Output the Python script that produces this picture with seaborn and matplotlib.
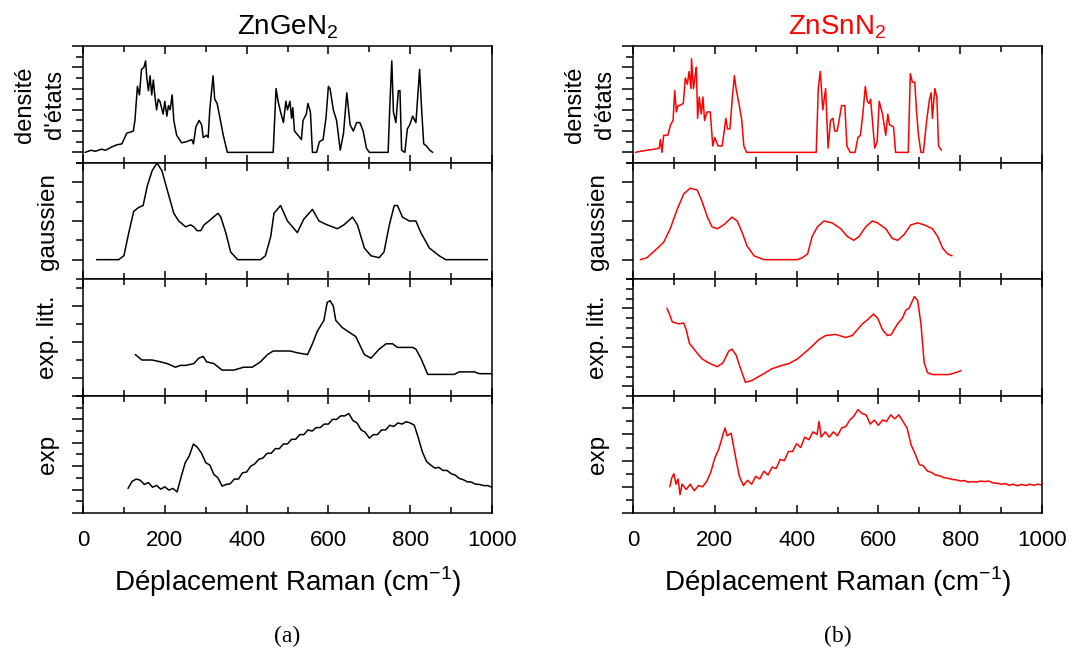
import numpy as np
import matplotlib
matplotlib.use("Agg")
import matplotlib.pyplot as plt
from matplotlib.ticker import MultipleLocator
import seaborn as sns

# ---- data (x in cm-1, y in arbitrary units) ----
ge_dos_x = [5, 20, 30, 45, 55, 70, 82, 95, 107, 115, 123, 127, 133, 138, 143, 149, 153, 156, 160, 164,
            168, 172, 176, 180, 184, 188, 196, 200, 205, 209, 213, 218, 222, 229, 241, 253, 266, 270, 276,
            284, 290, 294, 302, 306, 310, 318, 322, 328, 335, 343, 353, 465, 472, 477, 483, 490, 496, 500,
            506, 510, 513, 517, 526, 534, 538, 546, 550, 556, 561, 571, 578, 587, 594, 600, 604, 612, 620,
            629, 637, 645, 653, 661, 669, 677, 685, 693, 700, 746, 750, 755, 759, 765, 771, 775, 779, 787,
            793, 799, 806, 814, 823, 828, 833, 840, 848, 855]
ge_dos_y = [0.0, 0.1, 0.05, 0.15, 0.1, 0.25, 0.35, 0.4, 0.9, 0.95, 1.0, 1.5, 3.1, 2.7, 3.9, 4.0, 4.3,
            3.5, 2.9, 3.6, 2.7, 3.4, 2.6, 2.0, 2.5, 2.4, 1.8, 2.4, 1.7, 2.2, 2.0, 2.7, 1.5, 0.8, 0.45, 0.5,
            0.6, 0.4, 1.2, 1.5, 1.3, 0.7, 0.8, 0.7, 2.0, 3.6, 2.5, 2.3, 1.6, 0.8, 0.0, 0.0, 3.0, 2.4, 1.9,
            1.4, 2.4, 2.0, 2.4, 1.6, 2.1, 1.0, 0.8, 0.6, 1.5, 1.8, 2.3, 1.9, 0.0, 0.0, 0.5, 0.6, 1.6, 3.1,
            3.0, 2.0, 1.5, 0.1, 0.9, 2.8, 1.3, 1.0, 1.4, 1.4, 1.0, 0.2, 0.0, 0.0, 2.1, 4.3, 1.9, 1.4, 2.9,
            2.9, 0.1, 0.0, 1.1, 1.3, 1.7, 1.4, 3.9, 2.0, 0.4, 0.3, 0.1, 0.0]

sn_dos_x = [6, 18, 35, 52, 64, 67, 71, 75, 85, 92, 98, 102, 106, 110, 114, 123, 128, 133, 137, 142, 143,
            148, 152, 155, 158, 162, 167, 171, 175, 181, 189, 195, 200, 208, 218, 223, 227, 231, 237, 243,
            248, 252, 260, 266, 271, 278, 448, 453, 458, 464, 471, 477, 483, 489, 493, 499, 503, 510, 518,
            523, 531, 543, 550, 556, 562, 568, 573, 577, 581, 591, 597, 602, 610, 618, 623, 627, 637, 642,
            673, 678, 683, 689, 693, 698, 704, 710, 718, 725, 729, 732, 738, 743, 747, 754]
sn_dos_y = [0.0, 0.05, 0.1, 0.15, 0.2, 0.6, 0.0, 0.8, 0.8, 1.3, 1.5, 2.9, 1.9, 2.2, 2.2, 2.3, 3.5, 3.2,
            3.8, 3.0, 4.4, 3.0, 3.6, 4.0, 1.6, 2.6, 1.8, 2.6, 1.5, 1.9, 1.9, 0.3, 0.7, 0.3, 0.3, 1.0, 1.6,
            1.1, 1.1, 2.6, 3.6, 3.0, 2.2, 1.5, 0.3, 0.0, 0.0, 3.0, 3.8, 2.0, 3.0, 0.2, 1.5, 1.6, 1.0, 1.0,
            1.4, 2.2, 2.2, 0.3, 0.0, 0.0, 0.7, 0.8, 1.8, 3.1, 2.4, 2.3, 2.5, 0.2, 0.5, 2.4, 1.8, 0.8, 1.8,
            1.3, 1.2, 0.0, 0.0, 3.7, 3.3, 3.3, 2.0, 0.8, 0.0, 0.0, 1.5, 2.5, 2.8, 1.6, 3.0, 2.6, 0.3, 0.1]

ge_gau_x = [33, 87, 100, 112, 124, 136, 147, 157, 169, 181, 193, 206, 222, 234, 251, 263, 271, 279, 288,
            296, 308, 330, 337, 349, 361, 378, 434, 446, 459, 467, 483, 500, 524, 540, 561, 577, 597, 622,
            638, 659, 671, 688, 704, 724, 736, 749, 761, 769, 781, 798, 814, 826, 847, 871, 887, 989]
ge_gau_y = [0.0, 0.0, 0.1, 0.7, 1.25, 1.35, 1.4, 1.9, 2.3, 2.5, 2.3, 1.8, 1.2, 1.0, 0.85, 0.9, 0.85, 0.75,
            0.75, 0.9, 1.0, 1.2, 1.1, 0.7, 0.2, 0.0, 0.0, 0.1, 0.6, 1.2, 1.4, 1.0, 0.7, 1.05, 1.3, 1.0, 0.9,
            0.8, 0.9, 1.1, 0.9, 0.3, 0.1, 0.05, 0.2, 0.9, 1.4, 1.4, 1.1, 1.0, 1.0, 0.7, 0.3, 0.1, 0.0, 0.0]

sn_gau_x = [18, 34, 55, 75, 91, 108, 124, 140, 157, 169, 182, 193, 206, 222, 242, 255, 267, 279, 296, 320,
            402, 414, 427, 438, 451, 467, 487, 508, 524, 540, 553, 569, 585, 598, 618, 634, 647, 663, 679,
            696, 712, 732, 745, 757, 769, 780]
sn_gau_y = [0.0, 0.05, 0.25, 0.45, 0.8, 1.3, 1.7, 1.85, 1.8, 1.5, 1.1, 0.85, 0.8, 0.9, 1.1, 1.0, 0.7,
            0.35, 0.1, 0.0, 0.0, 0.05, 0.15, 0.6, 0.85, 1.0, 0.95, 0.8, 0.6, 0.5, 0.6, 0.85, 1.0, 0.95,
            0.8, 0.55, 0.5, 0.65, 0.9, 0.95, 0.9, 0.8, 0.6, 0.3, 0.15, 0.1]

ge_lit_x = [128, 144, 169, 189, 206, 226, 238, 251, 271, 283, 294, 302, 320, 340, 369, 393, 414, 434, 451,
            465, 483, 507, 524, 549, 561, 573, 589, 597, 604, 612, 618, 634, 647, 667, 688, 704, 724, 741,
            757, 769, 806, 814, 826, 843, 867, 908, 920, 957, 969, 1000]
ge_lit_y = [0.65, 0.5, 0.5, 0.45, 0.4, 0.3, 0.35, 0.35, 0.4, 0.55, 0.6, 0.45, 0.4, 0.22, 0.22, 0.3, 0.3,
            0.45, 0.65, 0.75, 0.75, 0.75, 0.7, 0.65, 0.95, 1.3, 1.6, 2.1, 2.15, 2.0, 1.6, 1.4, 1.3, 1.15,
            0.65, 0.55, 0.8, 0.95, 0.95, 0.85, 0.85, 0.8, 0.55, 0.1, 0.1, 0.1, 0.17, 0.17, 0.12, 0.12]

sn_lit_x = [83, 89, 96, 112, 124, 130, 138, 153, 169, 185, 206, 220, 234, 242, 252, 263, 275, 291, 316,
            340, 369, 381, 402, 430, 455, 471, 495, 520, 536, 561, 573, 588, 598, 610, 622, 631, 647, 659,
            667, 675, 688, 696, 704, 712, 720, 732, 773, 789, 802]
sn_lit_y = [2.0, 1.85, 1.65, 1.6, 1.62, 1.45, 1.1, 0.9, 0.7, 0.6, 0.5, 0.6, 0.9, 0.95, 0.8, 0.45, 0.1,
            0.15, 0.3, 0.45, 0.55, 0.58, 0.7, 0.95, 1.2, 1.3, 1.33, 1.25, 1.3, 1.6, 1.7, 1.85, 1.75, 1.45,
            1.3, 1.32, 1.6, 1.75, 1.95, 2.0, 2.3, 2.2, 1.6, 0.6, 0.35, 0.3, 0.3, 0.35, 0.4]

ge_exp_x = [110, 120, 130, 140, 150, 160, 170, 180, 190, 200, 210, 220, 230, 240, 250, 260, 270, 280, 290,
            300, 310, 320, 330, 340, 350, 360, 370, 380, 390, 400, 410, 420, 430, 440, 450, 460, 470, 480,
            490, 500, 510, 520, 530, 540, 550, 560, 570, 580, 590, 600, 610, 620, 630, 640, 650, 660, 670,
            680, 690, 700, 710, 720, 730, 740, 750, 760, 770, 780, 790, 800, 810, 820, 830, 840, 850, 860,
            870, 880, 890, 900, 910, 920, 930, 940, 950, 960, 970, 980, 990, 1000]
ge_exp_y = [0.05, 0.35, 0.45, 0.4, 0.22, 0.3, 0.1, 0.18, 0.02, 0.12, -0.02, 0.05, -0.1, 0.55, 1.15, 1.45,
            1.95, 1.8, 1.55, 1.15, 1.05, 0.65, 0.5, 0.15, 0.22, 0.25, 0.45, 0.45, 0.72, 0.75, 1.0, 1.1, 1.3,
            1.35, 1.55, 1.55, 1.75, 1.75, 1.95, 1.95, 2.15, 2.15, 2.35, 2.35, 2.55, 2.5, 2.65, 2.65, 2.8,
            2.8, 3.0, 3.0, 3.15, 3.15, 3.25, 2.95, 2.85, 2.55, 2.45, 2.2, 2.35, 2.35, 2.55, 2.55, 2.75, 2.7,
            2.85, 2.8, 2.9, 2.85, 2.75, 2.2, 1.6, 1.2, 1.05, 0.92, 0.95, 0.82, 0.82, 0.68, 0.62, 0.48, 0.42,
            0.33, 0.32, 0.23, 0.22, 0.17, 0.17, 0.1]

sn_exp_x = [90, 95, 100, 105, 110, 115, 120, 130, 140, 150, 160, 170, 180, 190, 200, 210, 220, 225, 230,
            240, 250, 260, 270, 280, 290, 300, 310, 320, 330, 340, 350, 360, 370, 380, 390, 400, 410, 420,
            430, 440, 450, 455, 460, 470, 480, 490, 500, 510, 520, 530, 540, 550, 560, 570, 580, 590, 600,
            610, 620, 630, 640, 650, 660, 670, 680, 690, 700, 710, 720, 730, 740, 750, 760, 770, 780, 790,
            800, 810, 820, 830, 840, 850, 860, 870, 880, 890, 900, 910, 920, 930, 940, 950, 960, 970, 980,
            990, 1000]
sn_exp_y = [0.0, 0.35, 0.5, 0.1, 0.3, -0.3, 0.1, -0.1, 0.1, -0.15, 0.05, 0.0, 0.2, 0.55, 1.1, 1.45, 2.0,
            2.25, 1.95, 2.05, 1.2, 0.4, 0.05, 0.25, 0.1, 0.4, 0.3, 0.6, 0.45, 0.75, 0.7, 1.05, 1.0, 1.35,
            1.35, 1.65, 1.5, 1.9, 1.8, 2.1, 2.0, 2.5, 1.9, 2.1, 1.9, 2.1, 1.95, 2.25, 2.3, 2.55, 2.7, 2.95,
            2.8, 2.75, 2.4, 2.55, 2.35, 2.55, 2.5, 2.75, 2.6, 2.75, 2.5, 2.25, 1.6, 1.25, 0.85, 0.8, 0.6,
            0.55, 0.45, 0.42, 0.35, 0.33, 0.28, 0.27, 0.22, 0.24, 0.18, 0.2, 0.18, 0.22, 0.2, 0.22, 0.15,
            0.14, 0.1, 0.12, 0.06, 0.1, 0.04, 0.09, 0.05, 0.1, 0.06, 0.1, 0.07]

row_labels = ["densité\nd'états", "gaussien", "exp. litt.", "exp"]
titles = ["ZnGeN$_2$", "ZnSnN$_2$"]
captions = ["(a)", "(b)"]
xlabel = "Déplacement Raman (cm$^{-1}$)"

sns.set_style("ticks")
plt.rcParams["font.family"] = ["Liberation Sans", "DejaVu Sans"]
plt.rcParams["mathtext.fontset"] = "custom"
plt.rcParams["mathtext.rm"] = "Liberation Sans"
plt.rcParams["text.color"] = "black"
plt.rcParams["xtick.color"] = "black"
plt.rcParams["ytick.color"] = "black"
plt.rcParams["axes.edgecolor"] = "black"

fig = plt.figure(figsize=(10.73, 6.54), dpi=100)

W, H = 1073, 654
col_left = [83, 633]
col_width = 409
rows_px = [(46, 163), (163, 279), (279, 396), (396, 513)]

curves = [
    [(ge_dos_x, ge_dos_y), (ge_gau_x, ge_gau_y), (ge_lit_x, ge_lit_y), (ge_exp_x, ge_exp_y)],
    [(sn_dos_x, sn_dos_y), (sn_gau_x, sn_gau_y), (sn_lit_x, sn_lit_y), (sn_exp_x, sn_exp_y)],
]
ylims = [
    [(-0.5, 5.0), (-0.5, 2.5), (-0.5, 2.75), (-1.0, 4.0)],
    [(-0.5, 5.0), (-0.5, 2.5), (-0.25, 2.75), (-1.0, 3.47)],
]
yminor = [
    [0.5, 0.5, 0.5, 0.5],
    [0.5, 0.5, 0.25, 0.5],
]
colors = ["black", "red"]

for c in range(2):
    x0 = col_left[c] / W
    for r, (top, bot) in enumerate(rows_px):
        ax = fig.add_axes([x0, 1 - bot / H, col_width / W, (bot - top) / H])
        xs, ys = curves[c][r]
        sns.lineplot(x=xs, y=ys, ax=ax, color=colors[c], lw=1.1, sort=False, estimator=None)
        ax.set_xlim(0, 1000)
        ax.set_ylim(*ylims[c][r])
        ax.xaxis.set_major_locator(MultipleLocator(200))
        ax.xaxis.set_minor_locator(MultipleLocator(100))
        ax.yaxis.set_major_locator(MultipleLocator(1))
        ax.yaxis.set_minor_locator(MultipleLocator(yminor[c][r]))
        ax.tick_params(axis="x", which="both", direction="in", top=True, bottom=True,
                       labelbottom=(r == 3), labelsize=16, width=1.1, pad=12)
        ax.tick_params(axis="x", which="major", length=6)
        ax.tick_params(axis="x", which="minor", length=4)
        ax.tick_params(axis="y", which="both", direction="out", left=True, right=False,
                       labelleft=False, width=1.1)
        ax.tick_params(axis="y", which="major", length=8)
        ax.tick_params(axis="y", which="minor", length=5)
        for s in ax.spines.values():
            s.set_visible(True)
            s.set_linewidth(1.1)
        ax.set_xlabel("")
        ax.set_ylabel("")

    # row labels
    lab_x = (col_left[c] - 35) / W
    for r, (top, bot) in enumerate(rows_px):
        yc = 1 - (top + bot) / 2 / H
        if r == 0:
            fig.text((col_left[c] - 58) / W, yc, "densité", rotation=90, ha="center", va="center",
                     fontsize=17)
            fig.text((col_left[c] - 28) / W, yc, "d'états", rotation=90, ha="center", va="center",
                     fontsize=17)
        else:
            fig.text(lab_x, yc, row_labels[r], rotation=90, ha="center", va="center", fontsize=17.5)

    xc = (col_left[c] + col_width / 2) / W
    fig.text(xc, 1 - 27 / H, titles[c], ha="center", va="center", fontsize=20, color=colors[c])
    fig.text(xc, 1 - 582 / H, xlabel, ha="center", va="center", fontsize=20)
    fig.text(xc, 1 - 636 / H, captions[c], ha="center", va="center", fontsize=17,
             family=["Liberation Serif", "DejaVu Serif"])

fig.savefig("out.png", dpi=100)
